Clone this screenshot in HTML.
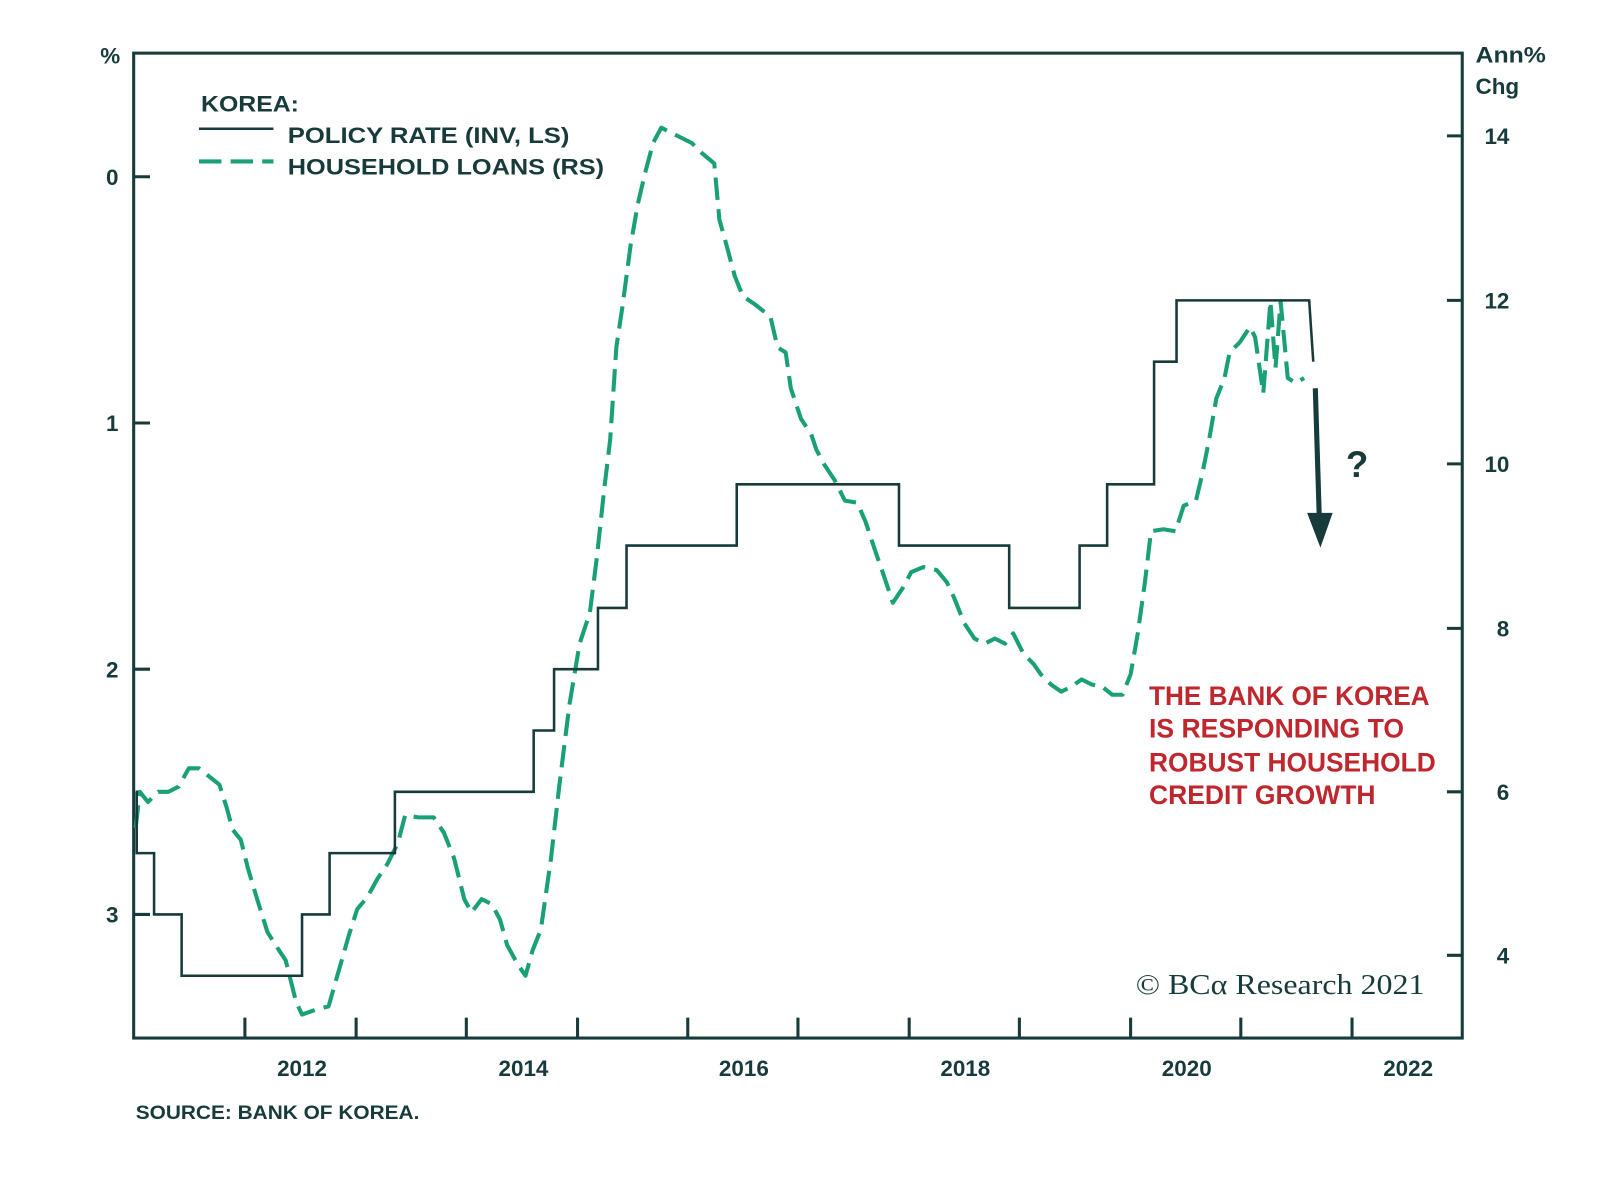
<!DOCTYPE html>
<html><head><meta charset="utf-8"><style>html,body{margin:0;padding:0;background:#fff}svg{display:block}</style></head>
<body>
<svg width="1600" height="1177" viewBox="0 0 1568 1152" preserveAspectRatio="none" xmlns="http://www.w3.org/2000/svg" font-family="Liberation Sans, sans-serif">
<rect width="1568" height="1152" fill="#fff"/>
<g stroke="#173b3b" stroke-width="3" fill="none">
<rect x="131" y="52" width="1302" height="964"/>
<path d="M131 173h16M131 414h16M131 655h16M131 895h16"/>
<path d="M1418 133h15M1418 294h15M1418 454h15M1418 615h15M1418 775h15M1418 935h15"/>
<path d="M240 1016v-20M349 1016v-20M457 1016v-20M566 1016v-20M674 1016v-20M782 1016v-20M891 1016v-20M999 1016v-20M1108 1016v-20M1216 1016v-20M1325 1016v-20"/>
</g>
<g fill="#173b3b" font-weight="bold" font-size="22">
<text x="108" y="62" text-anchor="middle">%</text>
<text x="110" y="181" text-anchor="middle">0</text>
<text x="110" y="422" text-anchor="middle">1</text>
<text x="110" y="663" text-anchor="middle">2</text>
<text x="110" y="903" text-anchor="middle">3</text>
<text x="1446" y="61" textLength="69" lengthAdjust="spacingAndGlyphs">Ann%</text>
<text x="1446" y="92">Chg</text>
<text x="1467" y="141" text-anchor="middle">14</text>
<text x="1467" y="302" text-anchor="middle">12</text>
<text x="1467" y="462" text-anchor="middle">10</text>
<text x="1473" y="623" text-anchor="middle">8</text>
<text x="1473" y="783" text-anchor="middle">6</text>
<text x="1473" y="943" text-anchor="middle">4</text>
<text x="296" y="1053" text-anchor="middle">2012</text>
<text x="513" y="1053" text-anchor="middle">2014</text>
<text x="729" y="1053" text-anchor="middle">2016</text>
<text x="946" y="1053" text-anchor="middle">2018</text>
<text x="1163" y="1053" text-anchor="middle">2020</text>
<text x="1380" y="1053" text-anchor="middle">2022</text>
<text x="197" y="109" textLength="96" lengthAdjust="spacingAndGlyphs">KOREA:</text>
<text x="282" y="140" textLength="276" lengthAdjust="spacingAndGlyphs">POLICY RATE (INV, LS)</text>
<text x="282" y="171" textLength="310" lengthAdjust="spacingAndGlyphs">HOUSEHOLD LOANS (RS)</text>
<text x="133" y="1095" font-size="19" textLength="278" lengthAdjust="spacingAndGlyphs">SOURCE: BANK OF KOREA.</text>
<text x="1330" y="467" font-size="36" text-anchor="middle">?</text>
</g>
<path d="M195 126h73" stroke="#173b3b" stroke-width="2.5"/>
<path d="M195 158h73" stroke="#19a077" stroke-width="4" stroke-dasharray="22 9"/>
<path fill="none" stroke="#19a077" stroke-width="4" stroke-dasharray="22 9" stroke-linejoin="round" d="M133,810 L137,775 L145,785 L155,775 L165,775 L175,770 L185,752 L195,752 L205,760 L215,768 L222,790 L228,812 L236,822 L243,850 L252,880 L262,912 L270,925 L280,940 L290,980 L296,993 L310,988 L322,985 L332,950 L342,915 L350,890 L360,878 L370,860 L380,845 L390,825 L397,798 L410,800 L425,800 L435,815 L445,840 L455,880 L462,893 L472,880 L482,885 L490,900 L497,925 L508,945 L515,955 L522,930 L530,910 L540,840 L548,770 L558,690 L568,630 L578,600 L585,545 L592,480 L598,430 L604,340 L610,300 L618,240 L625,200 L632,170 L640,140 L648,125 L658,130 L668,135 L678,140 L688,150 L700,160 L705,215 L712,240 L720,270 L728,290 L740,298 L755,310 L762,340 L770,345 L775,380 L785,410 L795,425 L800,440 L808,455 L818,470 L828,490 L840,492 L848,510 L858,540 L865,560 L875,590 L885,575 L893,560 L905,555 L918,558 L928,570 L935,585 L945,610 L955,625 L965,630 L975,625 L985,630 L993,620 L1003,640 L1013,650 L1020,660 L1030,670 L1040,677 L1050,672 L1060,665 L1070,670 L1080,672 L1090,680 L1100,680 L1108,660 L1115,620 L1122,570 L1128,520 L1140,518 L1152,520 L1160,495 L1172,490 L1178,465 L1185,430 L1192,390 L1200,370 L1205,345 L1215,335 L1225,320 L1230,330 L1238,385 L1245,295 L1250,360 L1255,295 L1262,370 L1270,375 L1278,370"/>
<path fill="none" stroke="#173b3b" stroke-width="2.5" d="M133,775 H134 V835 H151 V895 H178 V955 H296 V895 H323 V835 H387 V775 H523 V715 H543 V655 H586 V595 H614 V534 H722 V474 H881 V534 H989 V595 H1058 V534 H1085 V474 H1131 V354 H1153 V294 H1283 L1287,354"/>
<path d="M1289 380 L1293 510" stroke="#173b3b" stroke-width="5"/>
<path d="M1281 502 L1306 502 L1294 536 Z" fill="#173b3b"/>
<g fill="#c0262d" font-size="26" font-weight="bold">
<text x="1126" y="690" textLength="275" lengthAdjust="spacingAndGlyphs">THE BANK OF KOREA</text>
<text x="1126" y="722" textLength="250" lengthAdjust="spacingAndGlyphs">IS RESPONDING TO</text>
<text x="1126" y="755" textLength="281" lengthAdjust="spacingAndGlyphs">ROBUST HOUSEHOLD</text>
<text x="1126" y="787" textLength="222" lengthAdjust="spacingAndGlyphs">CREDIT GROWTH</text>
</g>
<text x="1113" y="973" font-family="Liberation Serif, serif" font-size="28" fill="#173b3b" textLength="283" lengthAdjust="spacingAndGlyphs">© BCα Research 2021</text>
</svg>
</body></html>
